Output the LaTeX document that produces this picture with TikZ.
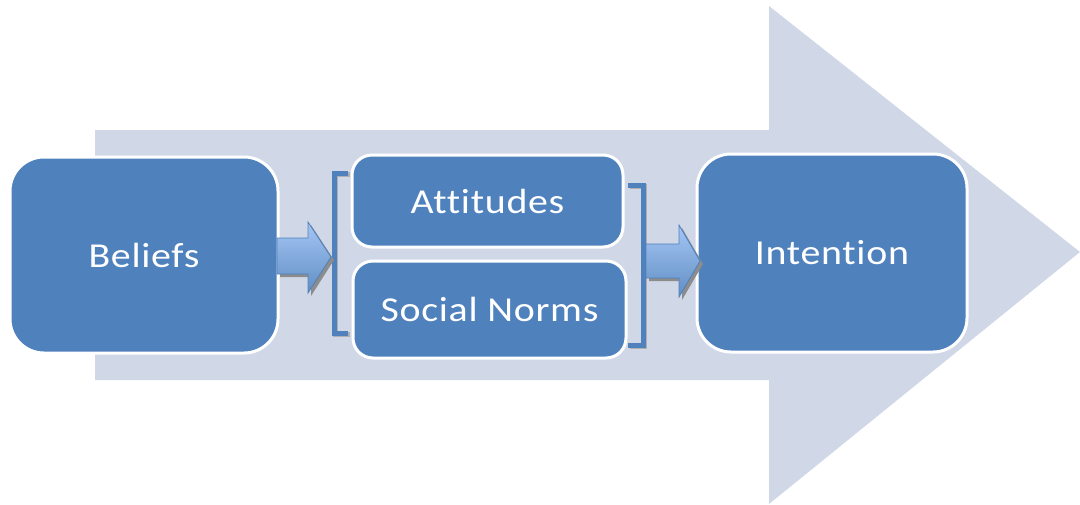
\documentclass[tikz,border=0pt]{standalone}
\usepackage{fontspec}
\setmainfont{Carlito}[FakeStretch=1.14, Ligatures={NoCommon}, LetterSpace=2]
\usetikzlibrary{shadings}
\definecolor{bigarrow}{HTML}{D0D8E8}
\definecolor{boxblue}{HTML}{4F81BD}
\definecolor{lightblue}{HTML}{A5C6F5}
\definecolor{shadowgray}{HTML}{8C8C8C}
\tikzset{
  box/.style={draw=white, line width=3pt, fill=boxblue, rounded corners=#1,
    text=white, font=\fontsize{35}{40}\selectfont, inner sep=0pt},
  box/.default=34pt,
  blockarrow/.style={top color=lightblue, bottom color=boxblue!90, draw=boxblue, line width=0.8pt},
  arrowshadow/.style={fill=shadowgray, draw=none},
  bracket/.style={draw=boxblue, line width=5pt, line cap=butt, line join=miter},
  bracketshadow/.style={draw=shadowgray!70, line width=5pt, line join=miter},
}
\begin{document}
\begin{tikzpicture}[x=1pt,y=-1pt]
\useasboundingbox (0,0) rectangle (1080,504);
% big background arrow
\fill[bigarrow] (95,130) -- (769,130) -- (769,6) -- (1080,252) -- (769,504) -- (769,380) -- (95,380) -- cycle;
% nodes
\node[box, minimum width=268pt, minimum height=196pt] (beliefs) at (144,255) {Beliefs};
\node[box=20pt, minimum width=271pt, minimum height=92pt] (att) at (487.5,201) {Attitudes};
\node[box=20pt, minimum width=273pt, minimum height=97pt] (soc) at (489.5,309.5) {Social Norms};
\node[box, minimum width=270pt, minimum height=198pt] (int) at (832,253) {Intention};
% brackets
\draw[bracketshadow] (349.5,174.5) -- (335.5,174.5) -- (335.5,334.5) -- (349.5,334.5);
\draw[bracket] (348,173) -- (334,173) -- (334,333) -- (348,333);
\draw[bracketshadow] (629.5,186.5) -- (644.5,186.5) -- (644.5,346.5) -- (629.5,346.5);
\draw[bracket] (628,185) -- (643,185) -- (643,345) -- (628,345);
% small block arrows
\fill[arrowshadow] (280,241) -- (311,241) -- (311,225) -- (334,260) -- (311,296) -- (311,277) -- (280,277) -- cycle;
\path[blockarrow] (277,238) -- (308,238) -- (308,222) -- (331,257) -- (308,293) -- (308,274) -- (277,274) -- cycle;
\fill[arrowshadow] (649,247) -- (682,247) -- (682,228) -- (703,264) -- (682,300) -- (682,281) -- (649,281) -- cycle;
\path[blockarrow] (646,244) -- (679,244) -- (679,225) -- (700,261) -- (679,297) -- (679,278) -- (646,278) -- cycle;
\end{tikzpicture}
\end{document}
